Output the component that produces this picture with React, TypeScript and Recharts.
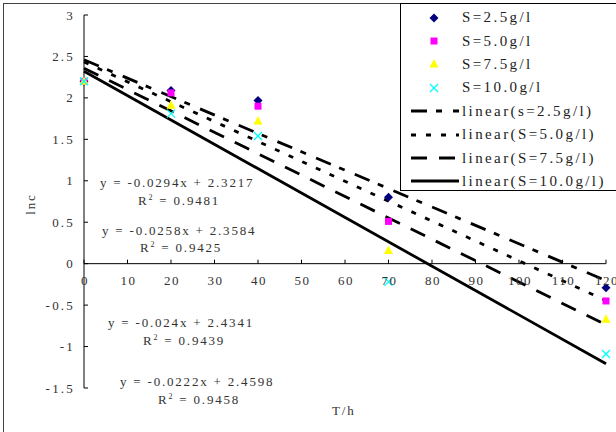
import React from "react";
import {
  ComposedChart,
  Scatter,
  Line,
  XAxis,
  YAxis,
  ReferenceLine,
  Legend,
} from "recharts";

// sampling times (h) and ln(c) readings per substrate concentration
const times = [0, 20, 40, 70, 120];
const lnc25 = [2.2, 2.09, 1.97, 0.8, -0.29];
const lnc50 = [2.2, 2.06, 1.9, 0.51, -0.45];
const lnc75 = [2.2, 1.91, 1.72, 0.16, -0.67];
const lnc100 = [2.2, 1.81, 1.54, -0.22, -1.09];

// trendline end points (x = 0 and x = 120)
const trendX = [0, 120];
const trend25 = [2.4598, -0.2042];
const trend50 = [2.4341, -0.4459];
const trend75 = [2.3584, -0.7376];
const trend100 = [2.3217, -1.2063];

const xTicks = [0, 10, 20, 30, 40, 50, 60, 70, 80, 90, 100, 110, 120];
const yTicks = [-1.5, -1, -0.5, 0, 0.5, 1, 1.5, 2, 2.5, 3];

const pointLabels = ["S=2.5g/l", "S=5.0g/l", "S=7.5g/l", "S=10.0g/l"];
const lineLabels = [
  "linear(s=2.5g/l)",
  "linear(S=5.0g/l)",
  "linear(S=7.5g/l)",
  "linear(S=10.0g/l)",
];
const equations = [
  ["y = -0.0294x + 2.3217", "0.9481"],
  ["y = -0.0258x + 2.3584", "0.9425"],
  ["y = -0.024x + 2.4341", "0.9439"],
  ["y = -0.0222x + 2.4598", "0.9458"],
];

const W = 616;
const H = 432;
const TOP = 15;
const PLOT_H = 373;
const Y_MIN = -1.5;
const Y_MAX = 3;
const ZERO_Y = TOP + (PLOT_H * Y_MAX) / (Y_MAX - Y_MIN);
const FONT = "'Liberation Serif', 'DejaVu Serif', serif";
const TXT = "#333";

const toPts = (ys: number[], xs: number[]) => xs.map((x, i) => ({ x, y: ys[i] }));

const Diamond = ({ cx, cy }: any) => (
  <polygon
    points={`${cx},${cy - 4.5} ${cx + 4.5},${cy} ${cx},${cy + 4.5} ${cx - 4.5},${cy}`}
    fill="#000080"
  />
);
const Square = ({ cx, cy }: any) => (
  <rect x={cx - 3.5} y={cy - 3.5} width={7} height={7} fill="#FF00FF" />
);
const Triangle = ({ cx, cy }: any) => (
  <polygon
    points={`${cx},${cy - 5} ${cx + 4.5},${cy + 3.5} ${cx - 4.5},${cy + 3.5}`}
    fill="#FFFF00"
  />
);
const Cross = ({ cx, cy }: any) => (
  <g stroke="#00FFFF" strokeWidth={1.3}>
    <line x1={cx - 4} y1={cy - 4} x2={cx + 4} y2={cy + 4} />
    <line x1={cx - 4} y1={cy + 4} x2={cx + 4} y2={cy - 4} />
  </g>
);

const markers = [Diamond, Square, Triangle, Cross];
const dashes = ["16 9 6 11", "5 10", "16 12", undefined];

const XTick = ({ x, payload }: any) => (
  <g>
    <line x1={x} x2={x} y1={ZERO_Y} y2={ZERO_Y - 4} stroke="#000" />
    <text
      x={x + 1}
      y={ZERO_Y + 21}
      textAnchor="middle"
      fontSize={13}
      fontFamily={FONT}
      letterSpacing={1.5}
      fill={TXT}
    >
      {payload.value}
    </text>
  </g>
);

const YTick = ({ x, y, payload }: any) => (
  <g>
    <line x1={x} x2={x + 4} y1={y} y2={y} stroke="#000" />
    <text
      x={x - 9}
      y={y + 4.5}
      textAnchor="end"
      fontSize={13}
      fontFamily={FONT}
      letterSpacing={2.2}
      fill={TXT}
    >
      {payload.value}
    </text>
  </g>
);

const LegendBox = () => (
  <div
    style={{
      background: "#fff",
      border: "1px solid #000",
      borderRight: "none",
      width: 230,
      height: 188,
      fontFamily: FONT,
      fontSize: 15,
      letterSpacing: 2.4,
      color: "#222",
      paddingTop: 2,
      boxSizing: "border-box",
    }}
  >
    {pointLabels.map((label, i) => {
      const M = markers[i];
      return (
        <div key={label} style={{ height: 23.4, display: "flex", alignItems: "center" }}>
          <svg width={61} height={14}>
            <M cx={33} cy={7} />
          </svg>
          <span>{label}</span>
        </div>
      );
    })}
    {lineLabels.map((label, i) => (
      <div key={label} style={{ height: 23.4, display: "flex", alignItems: "center" }}>
        <svg width={61} height={14}>
          <line x1={10} x2={58} y1={7} y2={7} stroke="#000" strokeWidth={3} strokeDasharray={dashes[i]} />
        </svg>
        <span>{label}</span>
      </div>
    ))}
  </div>
);

const eqPos = [
  { left: 100, top: 175, rLeft: 138, rTop: 193 },
  { left: 102, top: 223, rLeft: 140, rTop: 240 },
  { left: 108, top: 315, rLeft: 143, rTop: 333 },
  { left: 120, top: 374, rLeft: 158, rTop: 392 },
];

const textStyle: React.CSSProperties = {
  position: "absolute",
  fontFamily: FONT,
  fontSize: 13,
  letterSpacing: 1.8,
  color: TXT,
  whiteSpace: "pre",
};

export default function App() {
  const series = [lnc25, lnc50, lnc75, lnc100];
  const trends = [trend25, trend50, trend75, trend100];
  return (
    <div style={{ position: "relative", width: W, height: H, overflow: "hidden", background: "#fff" }}>
      <style>{`body{margin:0}`}</style>
      <div
        style={{
          position: "absolute",
          left: 3,
          top: 3,
          width: 700,
          height: 600,
          border: "1px solid #444",
        }}
      />
      <ComposedChart width={W} height={H} margin={{ top: TOP, right: 10, bottom: 0, left: 0 }}>
        <XAxis
          type="number"
          dataKey="x"
          domain={[0, 120]}
          ticks={xTicks}
          height={44}
          axisLine={false}
          tickLine={false}
          tickSize={0}
          tick={<XTick />}
          interval={0}
        />
        <YAxis
          type="number"
          dataKey="y"
          domain={[Y_MIN, Y_MAX]}
          ticks={yTicks}
          width={84}
          axisLine={{ stroke: "#000" }}
          tickLine={false}
          tickSize={0}
          tickMargin={0}
          tick={<YTick />}
          interval={0}
        />
        <ReferenceLine y={0} stroke="#000" />
        {series.map((s, i) => (
          <Scatter
            key={pointLabels[i]}
            name={pointLabels[i]}
            data={toPts(s, times)}
            shape={markers[i]}
            isAnimationActive={false}
          />
        ))}
        {trends.map((t, i) => (
          <Line
            key={lineLabels[i]}
            name={lineLabels[i]}
            data={toPts(t, trendX)}
            dataKey="y"
            type="linear"
            stroke="#000"
            strokeWidth={2.8}
            strokeDasharray={dashes[i]}
            dot={false}
            activeDot={false}
            isAnimationActive={false}
          />
        ))}
        <Legend
          layout="vertical"
          align="center"
          verticalAlign="middle"
          content={<LegendBox />}
          wrapperStyle={{ left: 400, top: 3, width: 230 }}
        />
      </ComposedChart>
      {equations.map(([eq, r2], i) => (
        <React.Fragment key={eq}>
          <div style={{ ...textStyle, left: eqPos[i].left, top: eqPos[i].top }}>{eq}</div>
          <div style={{ ...textStyle, left: eqPos[i].rLeft, top: eqPos[i].rTop }}>
            R<sup style={{ fontSize: 8 }}>2</sup> = {r2}
          </div>
        </React.Fragment>
      ))}
      <div style={{ ...textStyle, left: 20, top: 196, transform: "rotate(-90deg)" }}>lnc</div>
      <div style={{ ...textStyle, left: 332, top: 403 }}>T/h</div>
    </div>
  );
}
